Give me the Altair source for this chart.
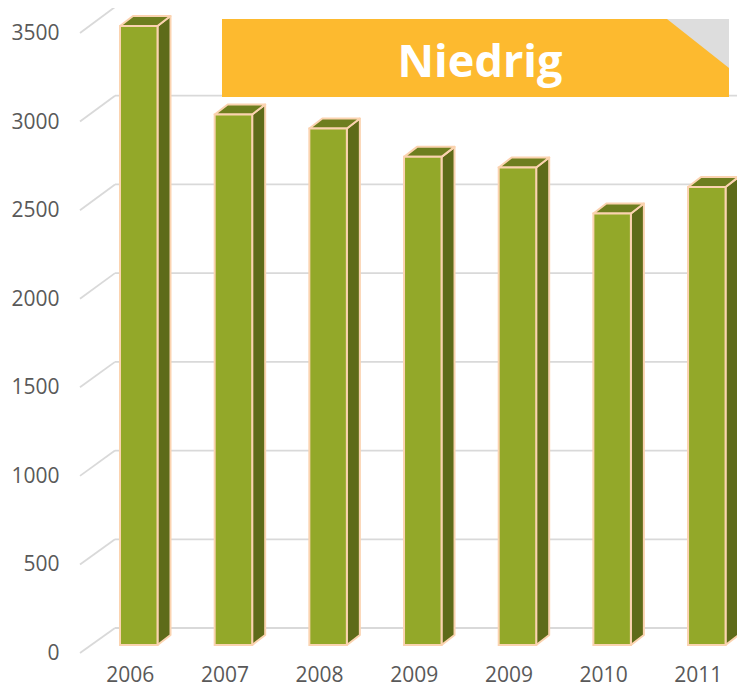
import altair as alt
import pandas as pd

# ---------------- data ----------------
years = ["2006", "2007", "2008", "2009", "2009", "2010", "2011"]
values = [3500, 3000, 2920, 2760, 2700, 2440, 2590]
tick_values = [0, 500, 1000, 1500, 2000, 2500, 3000, 3500]
banner_text = "Niedrig"

# ---------------- geometry / style ----------------
W, H = 657, 647
PX_X = 94.67          # pixels per category slot
PX_Y = 0.17686        # pixels per value unit (front face)
X_DOM = [-0.6206, 6.319]
Y_DOM = [-56.5, 3601.7]
HALF = 18.75 / PX_X   # half width of the bar front
DX = 13 / PX_X        # 3D depth, horizontal
DY = 10 / PX_Y        # 3D depth, vertical
BACK_PX, BACK_K = 17, 0.17743 / PX_Y    # back wall (gridlines)
FRONT_PX, FRONT_K = 8, 0.17714 / PX_Y   # floor front edge
GRID_XB = (115 - 138.75) / PX_X

FRONT_C, SIDE_C, TOP_C, EDGE_C = "#93A829", "#5E6B19", "#6E7E1F", "#FBD3B0"
GRID_C = "#D9D9D9"
FONT = "Open Sans"

xs = alt.Scale(domain=X_DOM, nice=False, zero=False)
ys = alt.Scale(domain=Y_DOM, nice=False, zero=False)

# ---------------- derived tables ----------------
idx = list(range(len(values)))
front = pd.DataFrame({
    "i": idx, "year": years, "value": values,
    "l": [i - HALF for i in idx], "r": [i + HALF for i in idx],
    "base": [0] * len(values),
})

side_rows, top_rows = [], []
for i, v in zip(idx, values):
    l, r = i - HALF, i + HALF
    side_rows += [dict(i=i, x=r, y=0, y2=v), dict(i=i, x=r + DX, y=DY, y2=v + DY)]
    top_rows += [dict(i=i, x=l, y=v, y2=v), dict(i=i, x=l + DX, y=v, y2=v + DY),
                 dict(i=i, x=r, y=v, y2=v + DY), dict(i=i, x=r + DX, y=v + DY, y2=v + DY)]
side = pd.DataFrame(side_rows)
top = pd.DataFrame(top_rows)

grid = pd.DataFrame({
    "v": tick_values,
    "yb": [BACK_PX / PX_Y + BACK_K * t for t in tick_values],
    "yf": [-FRONT_PX / PX_Y + FRONT_K * t for t in tick_values],
    "xa": [X_DOM[0]] * len(tick_values),
    "xb": [GRID_XB] * len(tick_values),
    "xc": [X_DOM[1] + 0.1] * len(tick_values),
})

label_expr = "[" + ",".join("'%s'" % y for y in years) + "][datum.value]"

x_axis = alt.Axis(
    values=idx, labelExpr=label_expr, labelOffset=-9, labelPadding=20,
    labelBaseline="middle", ticks=False, tickSize=0, domain=False, grid=False,
    labelFlush=False, labelOverlap=False, title=None, labelFont=FONT,
    labelFontSize=21, labelColor="#595959")
y_axis = alt.Axis(
    values=tick_values, format="d", labelOffset=8, labelPadding=21, ticks=False,
    tickSize=0, domain=False, grid=False, labelFlush=False, labelOverlap=False,
    title=None, labelFont=FONT, labelFontSize=21, labelColor="#595959")

# ---------------- layers ----------------
grid_h = alt.Chart(grid).mark_rule(color=GRID_C, strokeWidth=1.8).encode(
    x=alt.X("xb:Q", scale=xs, axis=x_axis), x2="xc:Q",
    y=alt.Y("yb:Q", scale=ys, axis=y_axis))
grid_d = alt.Chart(grid).mark_rule(color=GRID_C, strokeWidth=1.8).encode(
    x=alt.X("xa:Q", scale=xs, axis=x_axis), x2="xb:Q",
    y=alt.Y("yf:Q", scale=ys, axis=y_axis), y2="yb:Q")

side_l = alt.Chart(side).mark_area(fill=SIDE_C, stroke=EDGE_C, strokeWidth=2,
                                   strokeJoin="round", opacity=1).encode(
    x=alt.X("x:Q", scale=xs, axis=x_axis),
    y=alt.Y("y:Q", scale=ys, axis=y_axis), y2="y2:Q", detail="i:N")
top_l = alt.Chart(top).mark_area(fill=TOP_C, stroke=EDGE_C, strokeWidth=2,
                                 strokeJoin="round", opacity=1).encode(
    x=alt.X("x:Q", scale=xs, axis=x_axis),
    y=alt.Y("y:Q", scale=ys, axis=y_axis), y2="y2:Q", detail="i:N")

front_l = alt.Chart(front).mark_rect(fill=FRONT_C, stroke=EDGE_C, strokeWidth=2).encode(
    x=alt.X("l:Q", scale=xs, axis=x_axis), x2="r:Q",
    y=alt.Y("base:Q", scale=ys, axis=y_axis), y2="value:Q",
    tooltip=["year:N", "value:Q"])

one = pd.DataFrame({"t": [banner_text]})
banner = alt.Chart(one).mark_rect(fill="#FDBA2F").encode(
    x=alt.value(142), x2=alt.value(649), y=alt.value(11), y2=alt.value(89))
corner = alt.Chart(one).mark_point(
    shape="M-1,-0.79 L1,-0.79 L1,0.79 Z", size=3844, filled=True,
    fill="#DDDDDD", opacity=1, strokeWidth=0).encode(
    x=alt.value(618), y=alt.value(35.5))
btext = alt.Chart(one).mark_text(font=FONT, fontWeight="bold", fontSize=45,
                                 color="white", baseline="middle", align="center").encode(
    text="t:N", x=alt.value(400), y=alt.value(55))

chart = alt.layer(grid_h, grid_d, side_l, top_l, front_l, banner, corner, btext).properties(
    width=W, height=H,
    padding={"left": 72, "top": 0, "right": 0, "bottom": 32},
    autosize=alt.AutoSizeParams(type="none"),
    background="white",
).configure_view(strokeWidth=0)

chart.save("out.html", embed_options={"renderer": "svg", "actions": False})
